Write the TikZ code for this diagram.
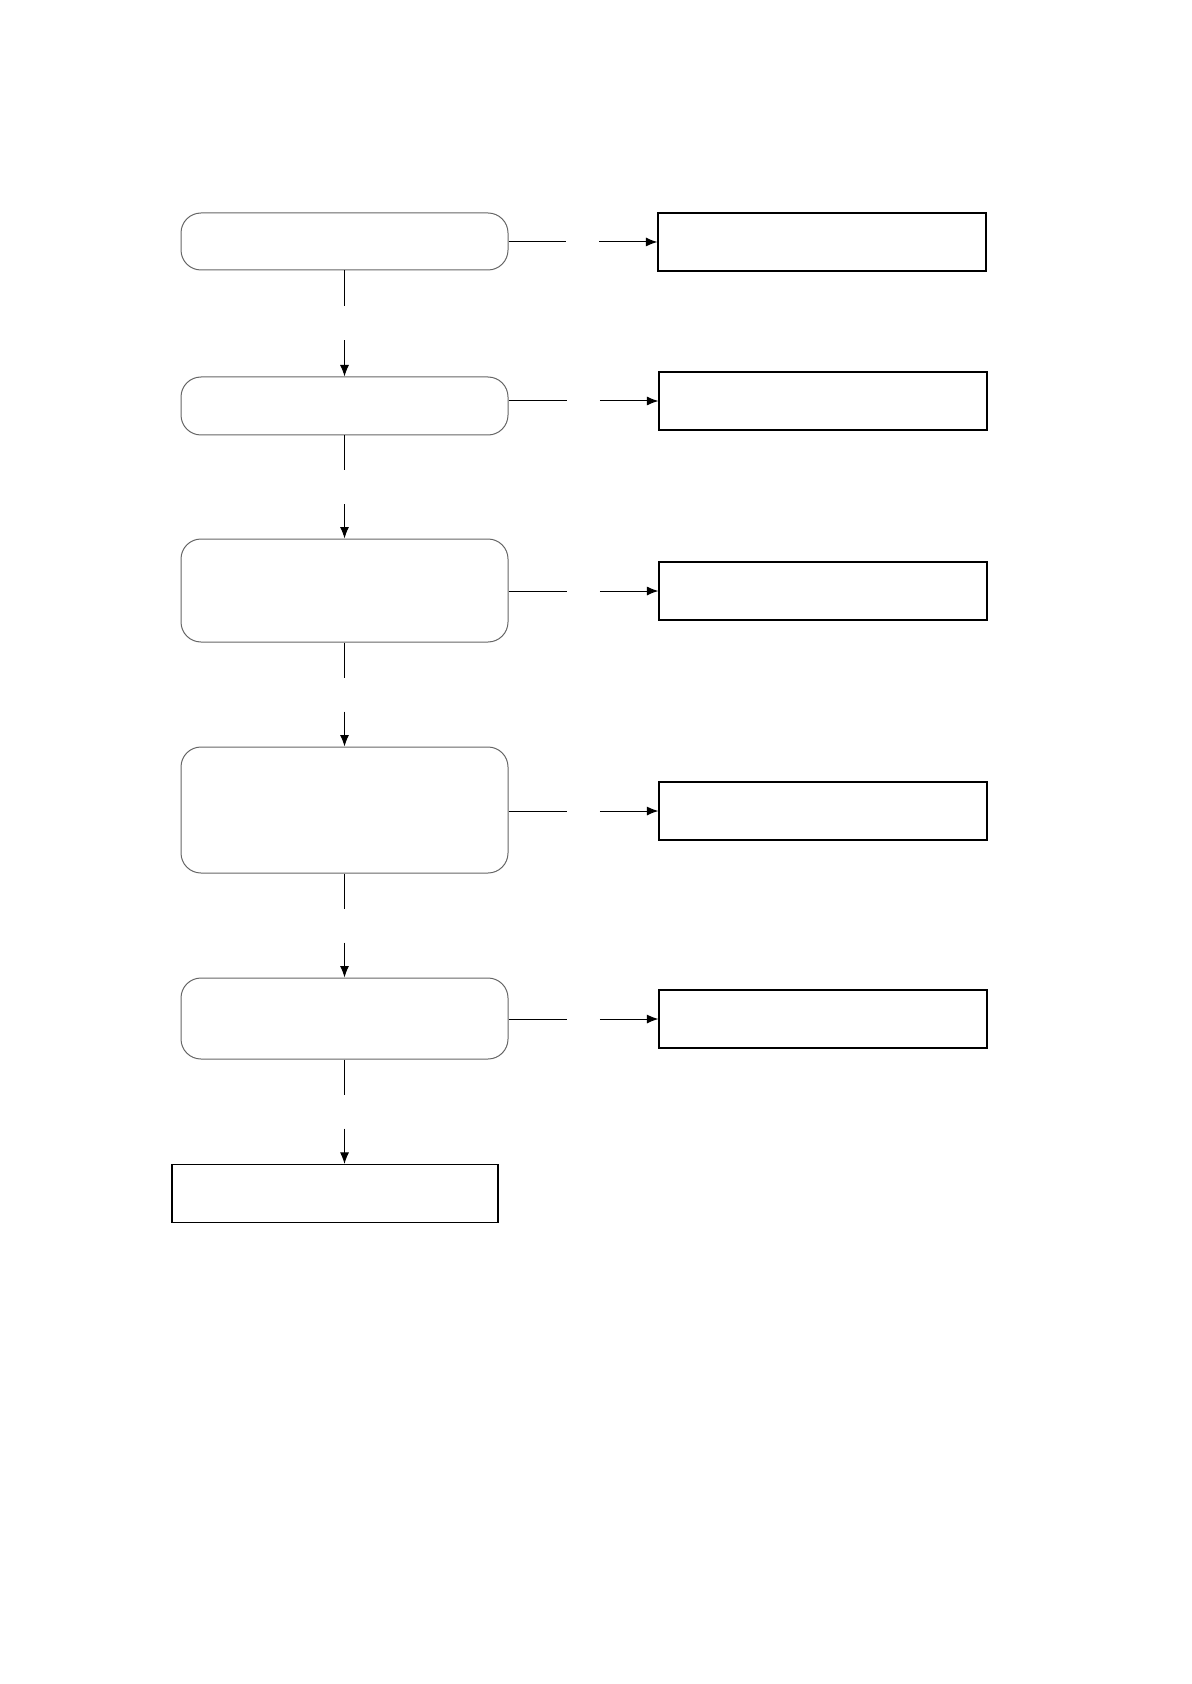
\documentclass[tikz,border=0pt]{standalone}
\usepackage{tikz}
\usetikzlibrary{calc,arrows.meta,positioning}

\begin{document}
\begin{tikzpicture}[x=0.5pt, y=-0.5pt,
    stepround/.style={draw=black!60, rounded corners=10pt, minimum width=163.5pt,
      inner sep=0pt, line width=0.5pt},
    outbox/.style={draw, minimum width=164pt, minimum height=29pt, inner sep=0pt,
      line width=0.6pt},
    arr/.style={-{Latex[length=5.75pt,width=4.5pt]}},
    every path/.append style={line width=0.5pt}]
  \useasboundingbox (0,0) rectangle (1191,1684);
  % left column
  \node (s1) [stepround, minimum height=28.5pt] at (344.5,241.5) {};
  \node (s2) [stepround, minimum height=29pt] at (344.5,406) {};
  \node (s3) [stepround, minimum height=51.5pt] at (344.5,590.5) {};
  \node (s4) [stepround, minimum height=63pt] at (344.5,810) {};
  \node (s5) [stepround, minimum height=40.5pt] at (344.5,1018.5) {};
  \node (fin) [outbox, minimum width=163pt] at (335,1193.5) {};
  % right column
  \node (r1) [outbox] at (822,242) {};
  \node (r2) [outbox] at (823,401) {};
  \node (r3) [outbox] at (823,591) {};
  \node (r4) [outbox] at (823,811) {};
  \node (r5) [outbox] at (823,1019) {};
  % down
  \foreach \a/\b in {s1/s2,s2/s3,s3/s4,s4/s5} {
    \coordinate (m\a) at ($(\a.south)!.5!(\b.north)$);
    \draw (\a.south) -- ([yshift=8.5pt]m\a);
    \draw[arr] ([yshift=-8.5pt]m\a) -- (\b.north);
  }
  \coordinate (mend) at ($(s5.south)!.5!(s5.south |- fin.north)$);
  \draw (s5.south) -- ([yshift=8.5pt]mend);
  \draw[arr] ([yshift=-8.5pt]mend) -- (s5.south |- fin.north);
  % across
  \foreach \i in {1,...,5} {
    \coordinate (h\i) at ($(s\i.east |- r\i.west)!.5!(r\i.west)$);
    \draw (s\i.east |- r\i.west) -- ([xshift=-8.25pt]h\i);
    \draw[arr] ([xshift=8.25pt]h\i) -- (r\i.west);
  }
\end{tikzpicture}
\end{document}
